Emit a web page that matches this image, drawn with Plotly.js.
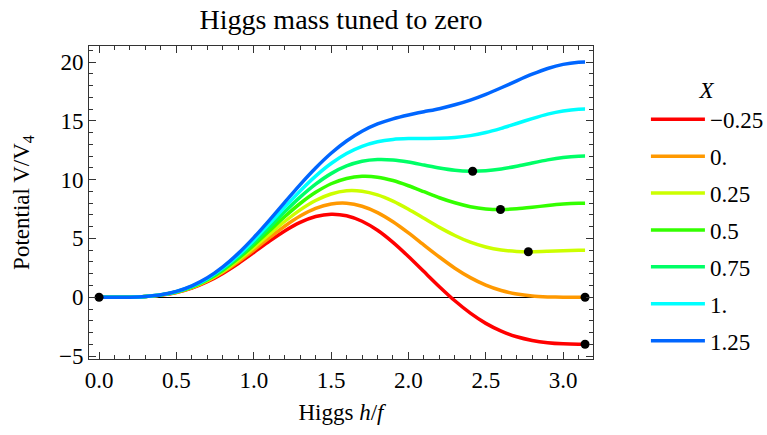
<!DOCTYPE html>
<html><head><meta charset="utf-8">
<script src="https://cdn.plot.ly/plotly-3.0.1.min.js"></script>
<style>html,body{margin:0;padding:0;background:#fff}#chart{width:767px;height:435px}</style>
</head><body><div id="chart"></div>
<script>
// Higgs field h/f (horizontal axis)
const hValues = [0,0.1,0.2,0.3,0.4,0.5,0.6,0.7,0.8,0.9,1.0,1.1,1.2,1.3,1.4,1.5,1.6,1.7,1.8,1.9,2.0,2.1,2.2,2.3,2.4,2.5,2.6,2.7,2.8,2.9,3.0,3.1,3.1416];
// legend labels for parameter X
const xLabels = ['\u22120.25','0.','0.25','0.5','0.75','1.','1.25'];
// potential V/V4 for each X
const vXm025 = [0,0.00,0.01,0.06,0.18,0.41,0.78,1.32,2.03,2.87,3.80,4.75,5.63,6.36,6.86,7.06,6.93,6.46,5.69,4.66,3.46,2.18,0.90,-0.30,-1.35,-2.22,-2.88,-3.36,-3.67,-3.86,-3.96,-4.00,-4.00];
const vX000 = [0,0.00,0.01,0.06,0.18,0.42,0.81,1.38,2.12,3.01,4.01,5.05,6.04,6.90,7.55,7.92,7.99,7.74,7.20,6.42,5.47,4.44,3.42,2.47,1.67,1.03,0.57,0.27,0.10,0.03,0.00,0.00,0.00];
const vX025 = [0,0.00,0.01,0.06,0.19,0.44,0.84,1.43,2.21,3.16,4.22,5.35,6.44,7.43,8.23,8.78,9.05,9.01,8.70,8.17,7.48,6.71,5.94,5.25,4.68,4.27,4.01,3.89,3.87,3.91,3.96,4.00,4.00];
const vX050 = [0,0.00,0.01,0.07,0.20,0.45,0.87,1.49,2.30,3.30,4.43,5.64,6.85,7.97,8.92,9.65,10.10,10.28,10.21,9.92,9.48,8.97,8.46,8.03,7.70,7.51,7.46,7.52,7.65,7.80,7.92,7.99,8.00];
const vX075 = [0,0.00,0.01,0.07,0.20,0.47,0.90,1.54,2.39,3.44,4.64,5.94,7.26,8.51,9.61,10.51,11.16,11.56,11.71,11.67,11.49,11.24,10.99,10.80,10.72,10.76,10.91,11.14,11.42,11.68,11.88,11.99,12.00];
const vX100 = [0,0.00,0.01,0.07,0.21,0.48,0.94,1.60,2.49,3.58,4.85,6.24,7.66,9.04,10.30,11.37,12.22,12.83,13.22,13.42,13.49,13.50,13.51,13.58,13.74,14.00,14.36,14.77,15.19,15.57,15.84,15.99,16.00];
const vX125 = [0,0.00,0.01,0.07,0.21,0.50,0.97,1.65,2.58,3.73,5.07,6.54,8.07,9.58,10.99,12.24,13.28,14.11,14.73,15.17,15.50,15.77,16.03,16.36,16.76,17.25,17.81,18.40,18.96,19.45,19.80,19.98,20.00];
// marked minima
const minimaH = [0, 3.1416, 3.1416, 2.775, 2.595, 2.415];
const minimaV = [0, -4.00, 0.00, 3.87, 7.46, 10.71];

const seriesList = [vXm025, vX000, vX025, vX050, vX075, vX100, vX125];
const colors = ['#ff0000','#ff9900','#ccff00','#33ff00','#00ff66','#00ffff','#0066ff'];

const FONT = "'Liberation Serif', 'Times New Roman', serif";
const traces = seriesList.map((ys, i) => ({
  x: hValues, y: ys, type: 'scatter', mode: 'lines',
  name: xLabels[i], legendgroup: 'g' + i,
  line: {color: colors[i], width: 3.5, shape: 'spline', smoothing: 0.6},
  hoverinfo: 'skip'
}));
traces.push({
  x: minimaH, y: minimaV, type: 'scatter', mode: 'markers',
  marker: {color: '#000', size: 9}, showlegend: false, hoverinfo: 'skip'
});

const layout = {
  width: 767, height: 435,
  margin: {l: 89, r: 174, t: 46, b: 76, autoexpand: false},
  paper_bgcolor: '#fff', plot_bgcolor: '#fff',
  font: {family: FONT, size: 23, color: '#000'},
  title: {text: 'Higgs mass tuned to zero', font: {family: FONT, size: 28, color: '#000'},
          x: 0.5, xref: 'paper', y: 0.955, yref: 'container', yanchor: 'middle'},
  xaxis: {
    range: [-0.065, 3.193], showgrid: false, zeroline: false,
    showline: true, linecolor: '#333', linewidth: 1, mirror: 'allticks',
    ticks: 'inside', ticklen: 7, tickcolor: '#333', dtick: 0.5, tick0: 0,
    tickformat: '.1f', tickfont: {family: FONT, size: 23},
    minor: {ticks: 'inside', ticklen: 4, tickcolor: '#333', dtick: 0.1, tick0: 0, showgrid: false},
    title: {text: 'Higgs <i>h</i>/<i>f</i>', font: {family: FONT, size: 23}, standoff: 12}
  },
  yaxis: {
    range: [-5.25, 21.36], showgrid: false,
    zeroline: true, zerolinecolor: '#000', zerolinewidth: 1,
    showline: true, linecolor: '#333', linewidth: 1, mirror: 'allticks',
    ticks: 'inside', ticklen: 7, tickcolor: '#333', dtick: 5, tick0: 0,
    tickfont: {family: FONT, size: 23},
    minor: {ticks: 'inside', ticklen: 4, tickcolor: '#333', dtick: 1, tick0: 0, showgrid: false},
    title: {text: 'Potential V/V<sub>4</sub>', font: {family: FONT, size: 23}, standoff: 22}
  },
  showlegend: true,
  legend: {
    x: 1.105, xanchor: 'left', y: 0.93, yanchor: 'top',
    font: {family: FONT, size: 23},
    title: {text: '<i>X</i>', side: 'top center', font: {family: FONT, size: 23}},
    traceorder: 'grouped', tracegroupgap: 4, itemwidth: 54,
    bgcolor: 'rgba(0,0,0,0)'
  }
};
Plotly.newPlot('chart', traces, layout, {staticPlot: true, displayModeBar: false});
</script>
</body></html>
